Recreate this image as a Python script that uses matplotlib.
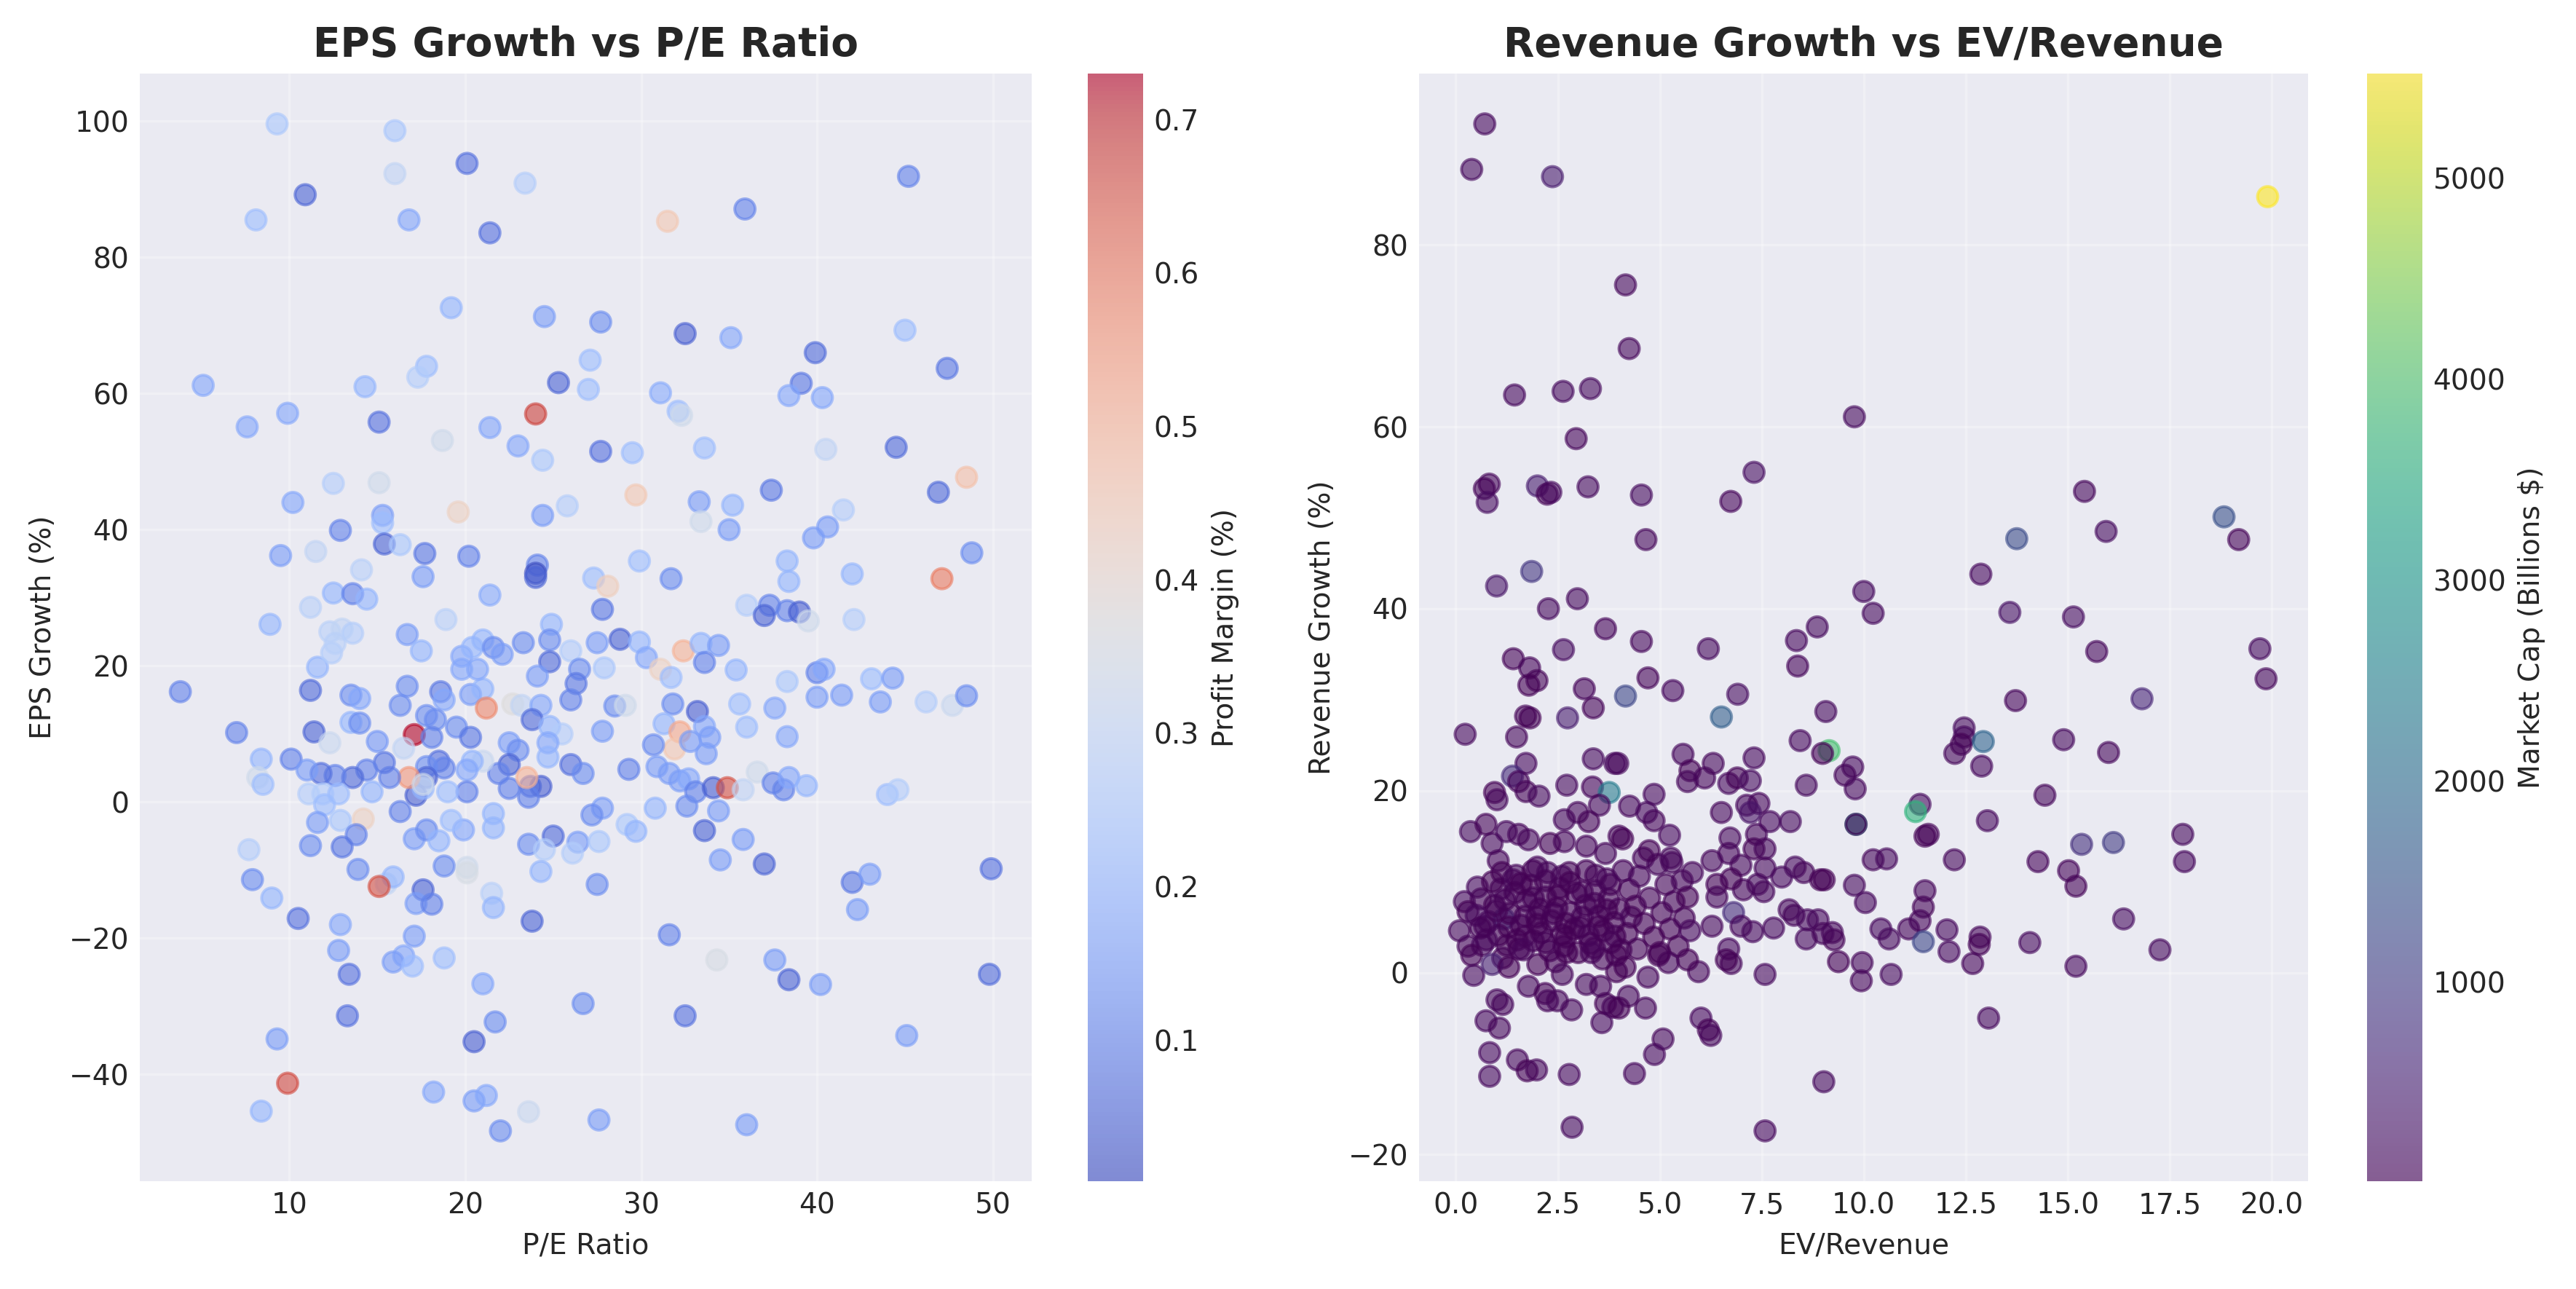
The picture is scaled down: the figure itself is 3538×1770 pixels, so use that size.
import numpy as np
import matplotlib
matplotlib.use("Agg")
import matplotlib.pyplot as plt

# ---- left chart: P/E ratio vs EPS growth, coloured by profit margin ----
pe_ratio = [
    9.3, 16.0, 20.1, 16.0, 23.4, 10.9, 8.1, 16.8, 21.4, 19.2,
    24.5, 5.1, 14.3, 17.8, 17.3, 25.3, 27.0, 27.1, 9.9, 7.6,
    15.1, 24.0, 21.4, 18.7, 23.0, 24.4, 12.5, 15.1, 10.2, 19.6,
    25.8, 15.3, 15.3, 24.4, 12.9, 15.4, 16.3, 17.7, 20.2, 24.1,
    24.0, 24.0, 9.5, 11.5, 14.1, 17.6, 12.5, 13.6, 14.4, 11.2,
    21.4, 27.3, 8.9, 18.9, 24.9,
    45.2, 35.9, 31.5, 27.7, 32.5, 35.1, 45.0, 39.9, 47.4, 39.1,
    38.4, 40.3, 31.1, 32.1, 32.3, 27.7, 29.5, 33.6, 40.5, 44.5,
    29.7, 33.3, 35.2, 37.4, 48.5, 46.9, 41.5, 33.4, 35.0, 40.6,
    39.8, 29.9, 31.7, 38.3, 38.4, 42.0, 48.8, 47.1, 28.1, 27.8,
    36.0, 37.3, 37.0, 38.3, 39.0, 39.5, 42.1,
    3.8, 7.0, 8.4, 8.2, 8.5, 11.2, 11.4, 12.3, 11.6, 12.4,
    12.3, 13.0, 13.6, 12.6, 16.7, 17.5, 13.5, 14.0, 13.5, 14.0,
    15.0, 16.7, 16.3, 17.1, 16.5, 18.6, 18.8, 17.8, 18.3, 19.5,
    20.3, 18.1, 20.3, 21.0, 21.2, 22.7, 23.2, 19.8, 20.4, 21.0,
    21.6, 22.1, 19.8, 20.7, 23.3, 24.8, 24.8, 24.1, 26.0, 26.5,
    26.3, 26.0, 24.3, 23.8, 22.5, 23.0, 24.8, 25.5, 24.7, 24.7,
    26.0, 26.7, 22.5, 21.9, 22.5, 23.7, 24.3, 23.6, 23.5, 21.0,
    20.4, 20.1, 20.1, 21.6, 21.6, 19.9, 19.2, 18.5, 18.8, 17.8,
    17.8, 17.2, 17.6, 19.0, 16.3, 16.8, 17.6, 15.7, 15.4, 14.4,
    13.6, 12.6, 11.8, 10.1, 11.0, 11.1, 11.9, 12.8, 12.0, 14.7,
    11.6, 12.9, 14.2, 13.8, 11.2, 13.0, 7.7, 7.9, 9.0, 10.5,
    12.9, 13.9, 15.5, 15.9, 15.1, 12.8, 13.4, 13.3, 9.3, 9.9,
    8.4, 17.1, 16.5, 15.9, 17.0, 18.8, 17.6, 17.2, 18.1, 17.1,
    17.8, 18.5, 18.8, 20.1, 20.1, 21.5, 21.6, 21.0, 21.7, 20.5,
    18.2, 20.5, 21.2, 22.0, 23.6, 23.8, 23.6, 25.0, 24.5, 24.3,
    26.4, 26.1, 26.7,
    27.5, 28.8, 29.9, 30.3, 31.1, 31.7, 32.4, 33.4, 34.4, 33.6,
    35.4, 38.3, 40.0, 40.4, 40.0, 41.4, 43.1, 44.3, 43.6, 46.2,
    47.7, 48.5, 27.9, 28.5, 29.1, 27.8, 31.8, 33.2, 31.3, 32.2,
    31.9, 30.7, 33.6, 33.9, 32.8, 33.7, 35.6, 36.0, 37.6, 38.3,
    29.3, 30.9, 31.6, 32.2, 32.7, 33.1, 34.1, 34.9, 35.8, 36.6,
    37.5, 38.1, 38.4, 39.4, 44.0, 44.6, 27.8, 27.2, 30.8, 32.6,
    34.4, 29.2, 29.7, 27.6, 33.6, 35.8, 34.5, 37.0, 27.5, 42.0,
    43.0, 42.3, 49.9, 31.6, 34.3, 37.6, 38.4, 40.2, 49.8, 32.5,
    45.1, 27.6, 36.0,
]
eps_growth = [
    99.6, 98.6, 93.8, 92.3, 90.9, 89.2, 85.5, 85.5, 83.6, 72.6,
    71.3, 61.2, 61.0, 64.0, 62.4, 61.6, 60.6, 64.9, 57.1, 55.1,
    55.8, 57.0, 55.0, 53.1, 52.3, 50.2, 46.8, 46.9, 44.0, 42.6,
    43.5, 42.1, 41.0, 42.1, 39.9, 37.9, 37.8, 36.5, 36.1, 34.8,
    33.6, 33.0, 36.2, 36.8, 34.1, 33.1, 30.7, 30.6, 29.8, 28.6,
    30.4, 32.9, 26.1, 26.8, 26.1,
    91.9, 87.1, 85.3, 70.5, 68.8, 68.2, 69.3, 66.0, 63.7, 61.5,
    59.7, 59.4, 60.1, 57.4, 56.8, 51.5, 51.3, 52.0, 51.8, 52.1,
    45.1, 44.1, 43.6, 45.8, 47.7, 45.5, 42.9, 41.2, 40.0, 40.4,
    38.8, 35.4, 32.8, 35.4, 32.4, 33.5, 36.6, 32.8, 31.7, 28.3,
    28.9, 28.9, 27.4, 28.1, 27.9, 26.6, 26.8,
    16.2, 10.2, 6.3, 3.6, 2.6, 16.4, 10.3, 8.7, 19.8, 21.9,
    25.0, 25.4, 24.8, 23.3, 24.6, 22.2, 15.7, 15.2, 11.7, 11.6,
    8.9, 17.0, 14.2, 9.9, 7.9, 16.2, 15.0, 12.7, 12.1, 11.0,
    9.5, 9.5, 15.8, 16.6, 13.8, 14.4, 14.2, 21.4, 22.7, 23.8,
    22.7, 21.7, 19.5, 19.5, 23.4, 23.8, 20.6, 18.5, 22.2, 19.5,
    17.4, 15.0, 14.2, 12.1, 8.7, 7.6, 11.1, 10.0, 8.7, 6.6,
    5.5, 4.2, 5.5, 4.2, 2.0, 2.3, 2.3, 0.7, 3.6, 6.0,
    6.0, 4.7, 1.5, -1.7, -3.8, -4.1, -2.7, 6.0, 5.0, 5.2,
    3.6, 1.0, 2.0, 1.5, -1.4, 3.6, 2.6, 3.6, 5.8, 4.7,
    3.6, 3.9, 4.2, 6.3, 4.7, 1.2, 1.2, 1.2, -0.4, 1.5,
    -3.0, -2.7, -2.5, -4.8, -6.4, -6.6, -7.0, -11.4, -14.1, -17.1,
    -18.0, -9.9, -12.0, -11.0, -12.4, -21.8, -25.3, -31.4, -34.8, -41.3,
    -45.4, -19.7, -22.6, -23.5, -24.1, -22.9, -12.9, -14.9, -15.0, -5.4,
    -4.1, -5.7, -9.4, -9.6, -10.4, -13.4, -15.5, -26.7, -32.3, -35.2,
    -42.6, -43.9, -43.1, -48.3, -45.5, -17.5, -6.2, -5.0, -7.0, -10.2,
    -5.9, -7.5, -29.6,
    23.4, 23.9, 23.5, 21.2, 19.5, 18.3, 22.2, 23.3, 23.0, 20.5,
    19.4, 17.7, 19.0, 19.5, 15.4, 15.7, 18.1, 18.2, 14.7, 14.7,
    14.2, 15.6, 19.7, 14.1, 14.2, 10.4, 14.4, 13.3, 11.5, 10.3,
    7.8, 8.4, 11.1, 9.5, 8.9, 7.1, 14.4, 11.0, 13.8, 9.6,
    4.8, 5.2, 4.2, 3.1, 3.4, 1.5, 2.1, 2.1, 1.8, 4.4,
    2.8, 1.8, 3.6, 2.4, 1.1, 1.8, -0.9, -1.9, -0.9, -0.6,
    -1.3, -3.3, -4.3, -5.8, -4.2, -5.5, -8.5, -9.1, -12.1, -11.8,
    -10.6, -15.8, -9.8, -19.5, -23.2, -23.2, -26.1, -26.8, -25.3, -31.4,
    -34.3, -46.7, -47.4,
]
profit_margin = [
    0.25, 0.25, 0.07, 0.30, 0.27, 0.05, 0.22, 0.17, 0.07, 0.20,
    0.15, 0.17, 0.20, 0.22, 0.27, 0.05, 0.22, 0.22, 0.17, 0.17,
    0.07, 0.68, 0.17, 0.33, 0.17, 0.25, 0.27, 0.33, 0.17, 0.42,
    0.27, 0.15, 0.22, 0.15, 0.10, 0.05, 0.25, 0.08, 0.10, 0.10,
    0.008, 0.05, 0.15, 0.30, 0.28, 0.15, 0.20, 0.10, 0.20, 0.28,
    0.18, 0.22, 0.20, 0.28, 0.20,
    0.10, 0.10, 0.45, 0.12, 0.04, 0.17, 0.22, 0.06, 0.08, 0.08,
    0.17, 0.17, 0.18, 0.22, 0.33, 0.07, 0.22, 0.22, 0.30, 0.06,
    0.45, 0.15, 0.20, 0.08, 0.47, 0.06, 0.27, 0.33, 0.15, 0.15,
    0.15, 0.22, 0.12, 0.20, 0.20, 0.20, 0.12, 0.60, 0.43, 0.08,
    0.27, 0.10, 0.05, 0.10, 0.04, 0.33, 0.27,
    0.10, 0.10, 0.20, 0.33, 0.22, 0.06, 0.05, 0.32, 0.20, 0.27,
    0.28, 0.30, 0.27, 0.28, 0.15, 0.20, 0.12, 0.17, 0.20, 0.12,
    0.14, 0.12, 0.12, 0.73, 0.30, 0.08, 0.17, 0.12, 0.12, 0.12,
    0.08, 0.10, 0.15, 0.20, 0.58, 0.37, 0.30, 0.17, 0.20, 0.20,
    0.12, 0.15, 0.17, 0.17, 0.12, 0.12, 0.06, 0.15, 0.27, 0.12,
    0.08, 0.10, 0.17, 0.06, 0.15, 0.12, 0.20, 0.27, 0.17, 0.20,
    0.07, 0.12, 0.05, 0.10, 0.10, 0.07, 0.04, 0.10, 0.50, 0.32,
    0.20, 0.17, 0.10, 0.20, 0.20, 0.17, 0.22, 0.07, 0.10, 0.12,
    0.05, 0.04, 0.20, 0.22, 0.10, 0.55, 0.33, 0.10, 0.08, 0.10,
    0.06, 0.10, 0.07, 0.10, 0.15, 0.27, 0.27, 0.22, 0.22, 0.20,
    0.15, 0.25, 0.42, 0.10, 0.12, 0.08, 0.27, 0.12, 0.20, 0.07,
    0.17, 0.12, 0.30, 0.20, 0.66, 0.15, 0.07, 0.07, 0.15, 0.67,
    0.20, 0.15, 0.17, 0.15, 0.22, 0.22, 0.05, 0.15, 0.10, 0.15,
    0.12, 0.20, 0.12, 0.33, 0.35, 0.28, 0.20, 0.17, 0.12, 0.04,
    0.17, 0.15, 0.17, 0.12, 0.32, 0.05, 0.12, 0.06, 0.27, 0.20,
    0.15, 0.27, 0.12,
    0.15, 0.05, 0.20, 0.17, 0.42, 0.22, 0.50, 0.20, 0.15, 0.10,
    0.20, 0.25, 0.10, 0.17, 0.15, 0.15, 0.22, 0.15, 0.15, 0.27,
    0.32, 0.12, 0.25, 0.12, 0.33, 0.15, 0.12, 0.04, 0.20, 0.52,
    0.45, 0.12, 0.17, 0.15, 0.15, 0.15, 0.22, 0.22, 0.17, 0.17,
    0.10, 0.15, 0.15, 0.15, 0.17, 0.10, 0.04, 0.66, 0.30, 0.33,
    0.10, 0.10, 0.17, 0.20, 0.22, 0.27, 0.15, 0.12, 0.20, 0.12,
    0.15, 0.25, 0.20, 0.25, 0.05, 0.15, 0.15, 0.05, 0.12, 0.08,
    0.15, 0.15, 0.07, 0.10, 0.35, 0.15, 0.05, 0.15, 0.06, 0.07,
    0.15, 0.15, 0.15,
]

# ---- right chart: EV/Revenue vs revenue growth, coloured by market cap ----
ev_revenue = [
    0.71, 0.39, 2.37, 4.16, 4.25, 1.44, 2.63, 3.30, 2.95, 0.82,
    0.70, 0.77, 2.00, 2.24, 2.33, 3.24, 4.55, 6.74, 7.31, 4.66,
    1.86, 1.00, 2.27, 2.98, 3.67, 4.55, 6.19, 8.35, 8.86, 8.38,
    2.64, 1.41, 1.81, 1.99, 1.79, 3.15, 4.71, 5.32, 6.91, 4.16,
    3.37, 1.71, 1.82, 2.74, 6.51, 9.07,
    19.90, 9.77, 15.41, 15.94, 18.83, 19.19, 13.75, 12.87, 10.00, 10.23,
    13.58, 15.14, 15.71, 19.71, 19.86, 13.72, 16.82, 12.46,
    9.15, 8.99, 12.46, 12.39, 12.23, 12.93, 12.89, 14.90, 16.00, 9.73,
    9.54, 9.79, 14.44, 11.38, 11.27, 13.03, 9.81, 9.81, 11.50, 11.58,
    15.34, 16.12, 17.82, 17.86, 12.22, 10.23, 10.56, 14.27, 15.02, 15.20,
    9.03, 9.77, 10.04, 11.50, 11.46, 11.38, 11.10, 10.42, 10.62, 11.46,
    12.04, 12.09, 12.85, 12.83, 12.67, 14.07, 15.20, 16.37, 17.26, 13.06,
    9.23, 9.27, 9.38, 9.96, 9.94, 10.67, 9.02, 8.88,
    0.23, 1.49, 1.72, 1.39, 1.54, 1.72, 2.04, 0.95, 1.01, 2.72,
    3.37, 3.90, 3.35, 3.76, 3.52, 0.36, 0.74, 0.89, 1.24, 1.54,
    1.78, 2.31, 2.66, 2.99, 3.26, 2.66, 3.20, 3.67, 4.00, 1.04,
    1.13, 1.48, 1.89, 2.25, 2.78, 0.53, 0.21, 0.30, 0.09, 1.18,
    0.71, 0.30, 0.65, 3.43, 3.79,
    0.62, 0.95, 1.10, 1.32, 1.45, 1.60, 1.72, 1.85, 1.98, 2.10,
    2.20, 2.35, 2.48, 2.55, 2.70, 2.82, 2.95, 3.05, 3.18, 3.30,
    3.42, 3.50, 3.62, 3.75, 3.88, 4.00, 1.05, 1.25, 1.55, 1.90,
    2.30, 2.65, 3.00, 3.40, 3.80, 0.80, 1.40, 2.00, 2.60, 3.20,
    3.70, 0.50, 0.75, 1.15, 2.45, 2.90, 1.70, 2.05, 3.60, 4.05,
    0.90, 1.20, 1.60, 1.90, 2.20, 2.50, 2.80, 3.10, 3.40, 3.70,
    1.00, 1.30, 1.70, 2.00, 2.40, 2.70, 3.10, 3.50, 3.90, 0.60,
    1.50, 2.20, 2.60, 3.25, 4.30,
    4.10, 4.25, 4.40, 4.50, 4.62, 4.75, 4.85, 4.95, 5.05, 5.15,
    5.25, 5.35, 5.45, 5.55, 5.60, 4.20, 4.45, 5.00, 5.30, 4.60,
    8.44, 3.97, 5.57, 6.31, 7.31, 5.74, 5.68, 6.10, 6.69, 6.90,
    7.22, 8.59, 4.86, 4.26, 4.68, 4.86, 5.24, 6.51, 7.13, 7.43,
    7.22, 7.70, 8.20, 6.72, 7.37, 7.31, 7.58, 4.09, 4.74, 5.27,
    6.28, 6.69, 6.99, 7.58, 8.32, 8.53, 8.94, 7.99, 7.40, 7.55,
    7.05, 6.75, 6.40, 6.40, 5.80, 5.68, 6.81, 6.99, 7.28, 7.79,
    8.17, 8.29, 8.62, 8.59, 9.00, 6.28, 5.74, 6.69,
    0.39, 0.44, 0.89, 1.30, 1.78, 1.01, 1.15, 0.74, 1.07, 0.83,
    0.83, 1.51, 1.75, 1.98, 2.78, 2.85, 2.19, 2.25, 2.49, 2.84,
    3.58, 3.67, 3.85, 3.20, 3.55, 2.61, 2.01, 1.66, 2.72, 3.32,
    3.94, 3.94,
    7.58, 6.75, 6.63, 5.95, 5.68, 5.21, 4.97, 4.71, 4.15, 4.23,
    4.65, 4.00, 6.01, 6.19, 6.25, 5.08, 4.87, 4.38, 7.58,
]
revenue_growth = [
    93.3, 88.3, 87.5, 75.6, 68.6, 63.5, 63.9, 64.2, 58.7, 53.7,
    53.2, 51.7, 53.5, 52.6, 52.8, 53.4, 52.5, 51.8, 55.0, 47.6,
    44.1, 42.5, 40.0, 41.1, 37.8, 36.4, 35.6, 36.5, 38.0, 33.7,
    35.5, 34.5, 33.5, 32.1, 31.6, 31.2, 32.4, 31.0, 30.6, 30.4,
    29.1, 28.2, 28.0, 28.0, 28.1, 28.7,
    85.3, 61.1, 52.9, 48.5, 50.1, 47.6, 47.7, 43.8, 41.9, 39.5,
    39.6, 39.1, 35.3, 35.6, 32.3, 29.9, 30.1, 26.9,
    24.4, 24.1, 25.9, 25.1, 24.1, 25.4, 22.7, 25.6, 24.2, 22.6,
    21.7, 20.2, 19.5, 18.5, 17.7, 16.7, 16.3, 16.3, 15.0, 15.2,
    14.1, 14.3, 15.2, 12.2, 12.4, 12.4, 12.5, 12.2, 11.2, 9.5,
    10.2, 9.6, 7.7, 9.0, 7.2, 5.7, 4.8, 4.8, 3.7, 3.4,
    4.7, 2.3, 3.9, 3.1, 1.0, 3.3, 0.7, 5.9, 2.5, -5.0,
    4.4, 3.6, 1.2, 1.1, -0.9, -0.2, -12.0, 5.8,
    26.2, 25.9, 23.0, 21.6, 21.0, 19.9, 19.4, 19.8, 19.0, 20.6,
    23.5, 23.0, 20.4, 19.8, 18.4, 15.5, 16.3, 14.2, 15.5, 15.2,
    14.6, 14.2, 16.8, 17.6, 16.6, 14.4, 13.9, 13.1, 15.0, 12.3,
    11.0, 10.7, 11.2, 11.0, 11.0, 9.4, 7.8, 6.7, 4.6, 5.9,
    5.1, 2.9, 3.0, 10.7, 9.7,
    8.1, 7.4, 9.2, 6.5, 8.8, 5.2, 7.9, 9.6, 6.1, 4.4,
    8.3, 5.7, 7.1, 9.3, 3.9, 6.6, 8.7, 5.0, 7.4, 3.2,
    9.0, 6.2, 4.6, 8.1, 5.5, 7.0, 4.1, 3.0, 2.6, 3.5,
    2.4, 2.9, 2.2, 2.7, 3.3, 5.6, 10.2, 11.6, 10.6, 11.2,
    10.3, 6.3, 3.6, 1.6, 1.2, 4.8, 4.0, 7.0, 1.5, 2.5,
    10.0, 8.0, 9.8, 8.2, 10.1, 8.4, 9.9, 8.9, 7.6, 6.9,
    6.8, 5.0, 6.2, 5.3, 6.5, 5.4, 6.1, 5.1, 4.0, 4.9,
    3.6, 3.3, 4.2, 4.1, 6.1,
    11.2, 9.1, 7.3, 10.6, 5.4, 8.2, 3.9, 11.9, 6.6, 9.7,
    4.8, 7.8, 2.9, 10.1, 6.0, 4.3, 2.6, 2.2, 12.1, 12.6,
    25.5, 23.0, 24.0, 23.0, 23.6, 22.2, 21.0, 21.4, 20.8, 21.4,
    21.1, 20.6, 19.6, 18.3, 17.6, 16.7, 15.1, 17.6, 18.4, 18.6,
    17.6, 16.6, 16.6, 14.8, 15.2, 13.6, 13.6, 14.7, 13.4, 12.6,
    12.3, 13.1, 11.8, 11.5, 11.6, 11.0, 10.2, 10.5, 9.7, 8.9,
    9.1, 10.3, 9.7, 8.3, 11.0, 8.3, 6.6, 5.1, 4.5, 4.9,
    6.9, 6.3, 5.8, 3.7, 4.3, 5.1, 4.6, 2.6,
    1.9, -0.3, 0.9, 0.6, -1.5, -3.0, -3.5, -5.3, -6.1, -8.8,
    -11.4, -9.6, -10.8, -10.7, -11.2, -17.0, -2.3, -3.1, -3.1, -4.1,
    -5.5, -3.4, -3.8, -1.3, -1.5, -0.2, 0.9, 2.5, 2.2, 2.2,
    1.9, 0.1,
    -0.2, 1.0, 1.4, 0.1, 1.4, 1.1, 1.9, -0.5, 0.6, -2.6,
    -3.9, -3.9, -5.0, -6.3, -6.9, -7.3, -9.0, -11.1, -17.4,
]
market_cap = [
    120, 150, 420, 110, 100, 120, 140, 160, 90, 80,
    40, 200, 450, 30, 120, 150, 180, 90, 220, 100,
    900, 320, 160, 150, 90, 110, 140, 120, 160, 80,
    200, 60, 90, 70, 20, 90, 70, 120, 200, 1200,
    60, 60, 20, 450, 1700, 150,
    5521, 150, 100, 180, 1400, 60, 1300, 130, 180, 140,
    250, 200, 100, 180, 110, 90, 600, 150,
    3900, 20, 140, 20, 100, 1800, 120, 140, 110, 130,
    80, 120, 100, 140, 3600, 120, 3000, 10, 20, 60,
    800, 1000, 140, 120, 110, 100, 130, 90, 80, 60,
    20, 150, 130, 100, 60, 80, 90, 120, 140, 1200,
    130, 120, 80, 20, 90, 150, 130, 190, 140, 130,
    100, 60, 20, 110, 90, 140, 160, 120,
    120, 110, 130, 700, 90, 60, 140, 20, 100, 150,
    160, 130, 90, 2300, 110, 150, 60, 110, 120, 90,
    100, 20, 130, 100, 70, 80, 90, 100, 60, 80,
    20, 100, 20, 110, 20, 130, 120, 20, 110, 1100,
    100, 90, 120, 90, 20,
    60, 30, 80, 20, 50, 40, 70, 30, 60, 20,
    50, 40, 30, 70, 20, 60, 40, 30, 50, 20,
    70, 40, 30, 60, 20, 50, 40, 30, 60, 20,
    40, 50, 30, 20, 60, 90, 110, 80, 100, 70,
    90, 120, 80, 60, 40, 30, 50, 20, 70, 40,
    30, 50, 20, 40, 60, 20, 30, 50, 40, 20,
    60, 20, 40, 30, 50, 20, 40, 30, 60, 50,
    20, 40, 30, 50, 80,
    80, 40, 30, 90, 20, 60, 30, 100, 40, 70,
    30, 50, 20, 80, 40, 30, 60, 20, 110, 90,
    130, 110, 120, 110, 130, 20, 100, 90, 120, 30,
    180, 150, 130, 100, 120, 90, 130, 100, 110, 90,
    300, 120, 140, 110, 90, 20, 100, 20, 20, 110,
    100, 90, 110, 100, 120, 110, 20, 130, 100, 110,
    80, 20, 30, 100, 110, 20, 700, 100, 120, 130,
    110, 90, 120, 130, 100, 110, 120, 130,
    20, 120, 500, 20, 110, 100, 90, 120, 110, 130,
    120, 110, 20, 100, 130, 140, 20, 90, 100, 110,
    120, 20, 90, 100, 80, 110, 20, 100, 20, 90,
    20, 30,
    120, 100, 20, 110, 20, 100, 20, 110, 20, 100,
    110, 20, 120, 20, 100, 110, 120, 120, 130,
]

W, H = 3538, 1770
DPI = 300


def box(x0, x1, y_top, y_bot):
    # pixel box -> figure fraction rect
    return [x0 / W, 1 - y_bot / H, (x1 - x0) / W, (y_bot - y_top) / H]


plt.style.use("seaborn-v0_8-darkgrid")
plt.rcParams["font.family"] = ["DejaVu Sans"]
fig = plt.figure(figsize=(W / DPI, H / DPI), dpi=DPI)

ax1 = fig.add_axes(box(192, 1417, 101, 1622))
cax1 = fig.add_axes(box(1494, 1570, 101, 1622))
ax2 = fig.add_axes(box(1949, 3170, 101, 1622))
cax2 = fig.add_axes(box(3251, 3327, 101, 1622))

TICK = 9.4
LABEL = 9.4
TITLE = 13.2

sc1 = ax1.scatter(pe_ratio, eps_growth, c=profit_margin, cmap="coolwarm",
                  alpha=0.6, s=45, linewidths=0.95)
ax1.set_xlabel("P/E Ratio", fontsize=LABEL)
ax1.set_ylabel("EPS Growth (%)", fontsize=LABEL)
ax1.set_title("EPS Growth vs P/E Ratio", fontsize=TITLE, fontweight="bold")
ax1.grid(True, alpha=0.3)
ax1.tick_params(labelsize=TICK)
cb1 = fig.colorbar(sc1, cax=cax1)
cb1.set_label("Profit Margin (%)", fontsize=LABEL)
cb1.ax.tick_params(labelsize=TICK)
cb1.outline.set_visible(False)
cax1.grid(False)

sc2 = ax2.scatter(ev_revenue, revenue_growth, c=market_cap, cmap="viridis",
                  alpha=0.6, s=45, linewidths=0.95)
ax2.set_xlabel("EV/Revenue", fontsize=LABEL)
ax2.set_ylabel("Revenue Growth (%)", fontsize=LABEL)
ax2.set_title("Revenue Growth vs EV/Revenue", fontsize=TITLE, fontweight="bold")
ax2.grid(True, alpha=0.3)
ax2.tick_params(labelsize=TICK)
cb2 = fig.colorbar(sc2, cax=cax2)
cb2.set_label("Market Cap (Billions $)", fontsize=LABEL)
cb2.ax.tick_params(labelsize=TICK)
cb2.outline.set_visible(False)
cax2.grid(False)

fig.savefig("out.png", dpi=DPI)
